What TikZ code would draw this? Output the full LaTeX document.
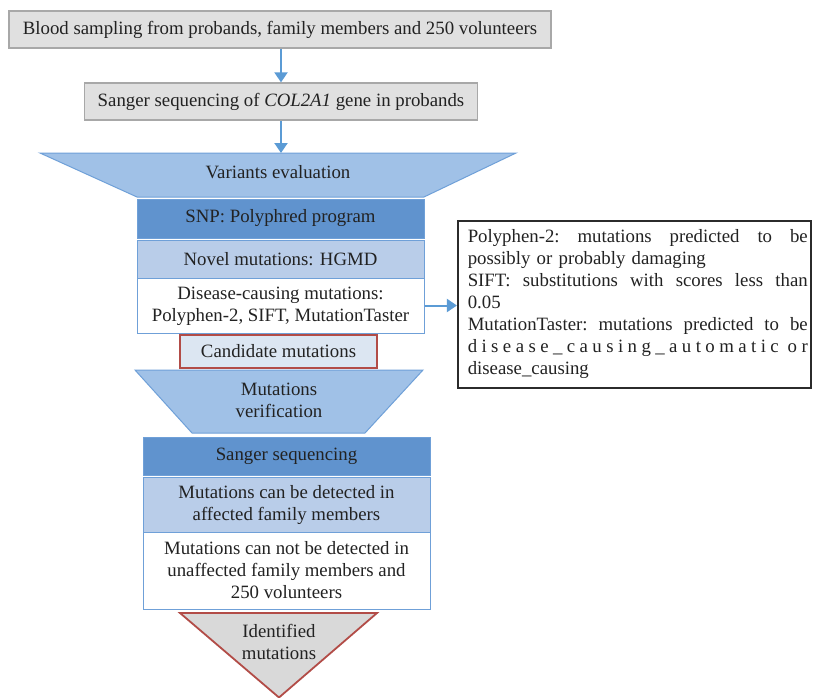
\documentclass[tikz,border=0pt]{standalone}
\usepackage{fontspec}
\setmainfont{Liberation Serif}
\usetikzlibrary{arrows.meta}
\definecolor{txt}{HTML}{222222}
\definecolor{grayfill}{HTML}{E0E0E0}
\definecolor{grayline}{HTML}{A8A8A8}
\definecolor{arrowblue}{HTML}{5B9BD5}
\definecolor{trapfill}{HTML}{A0C1E7}
\definecolor{bluedge}{HTML}{6FA0D8}
\definecolor{snpfill}{HTML}{6093CE}
\definecolor{novfill}{HTML}{B9CDE9}
\definecolor{candfill}{HTML}{DCE6F2}
\definecolor{redline}{HTML}{B24C47}
\definecolor{trifill}{HTML}{D9D9D9}
\definecolor{notebord}{HTML}{2B2B2B}
\newcommand{\jl}[1]{\hbox to 340pt{#1}}
\begin{document}
\begin{tikzpicture}[x=1pt,y=-1pt,
  every node/.style={font=\fontsize{18.8}{22}\selectfont, text=txt, inner sep=0pt, align=center},
  graybox/.style={draw=grayline, fill=grayfill, line width=1.3pt},
  darkbox/.style={draw=bluedge, fill=snpfill, line width=1pt, minimum width=287pt},
  midbox/.style={draw=bluedge, fill=novfill, line width=1pt, minimum width=287pt},
  whitebox/.style={draw=bluedge, fill=white, line width=1pt, minimum width=287pt},
  trapstyle/.style={draw=bluedge, fill=trapfill, line width=1pt},
  candbox/.style={draw=redline, fill=candfill, line width=1.8pt},
  tristyle/.style={draw=redline, fill=trifill, line width=1.8pt},
  notebox/.style={draw=notebord, line width=2.2pt, align=left},
  conn/.style={draw=arrowblue, line width=2pt, -{Triangle[length=10pt,width=13pt]}}]
\useasboundingbox[fill=white] (0,0) rectangle (813,698);

% top boxes
\node[graybox, minimum width=542pt, minimum height=37pt] (sample) at (280,29.5)
  {Blood sampling from probands, family members and 250 volunteers};
\node[graybox, minimum width=393pt, minimum height=37pt] (sangerA) at (281,101.5)
  {Sanger sequencing of \textit{COL2A1} gene in probands};

% variants evaluation funnel
\path[trapstyle] (40,153) -- (516,153) -- (424,197) -- (137,197) -- cycle;
\coordinate (evtop) at (281,153);
\node (evtext) at (278,172) {Variants evaluation};

\node[darkbox, minimum height=39pt] (snp) at (280.5,218.5) {SNP: Polyphred program};
\node[midbox, minimum height=38pt] (novel) at (280.5,259) {Novel mutations: HGMD};
\node[whitebox, minimum height=55pt] (dis) at (280.5,305.5)
  {\rule{0pt}{15pt}Disease-causing mutations:\\Polyphen-2, SIFT, MutationTaster};
\node[candbox, minimum width=197pt, minimum height=33pt] (cand) at (278.5,351.5) {Candidate mutations};

% notes
\node[notebox, minimum width=353pt, minimum height=167pt, text width=346.5pt] (notes) at (634.5,304.5) {%
\hspace*{6.5pt}\begin{minipage}{340pt}
\jl{Polyphen-2:\hfill mutations\hfill predicted\hfill to\hfill be}
\jl{possibly or probably damaging\hfill}
\jl{SIFT:\hfill substitutions\hfill with\hfill scores\hfill less\hfill than}
\jl{0.05\hfill}
\jl{MutationTaster:\hfill mutations\hfill predicted\hfill to\hfill be}
\jl{d\hfill i\hfill s\hfill e\hfill a\hfill s\hfill e\hfill \_\hfill c\hfill a\hfill u\hfill s\hfill i\hfill n\hfill g\hfill \_\hfill a\hfill u\hfill t\hfill o\hfill m\hfill a\hfill t\hfill i\hfill c\hfill\hfill o\hfill r}
\jl{disease\_causing\hfill}
\end{minipage}};

% verification funnel
\path[trapstyle] (135,370) -- (423,370) -- (365,433) -- (192,433) -- cycle;
\node (vertext) at (279,400) {Mutations\\verification};

\node[darkbox, minimum height=38pt] (sangerB) at (286.5,456) {Sanger sequencing};
\node[midbox, minimum height=55pt] (aff) at (286.5,504.5)
  {\rule{0pt}{15pt}Mutations can be detected in\\affected family members};
\node[whitebox, minimum height=77pt] (unaff) at (286.5,570.5)
  {Mutations can not be detected in\\unaffected family members and\\250 volunteers};

% identified
\path[tristyle] (180,613) -- (377,613) -- (279,697.5) -- cycle;
\node (ident) at (279,642) {Identified\\mutations};

% connectors
\draw[conn] (sample.south -| sangerA.north) -- (sangerA.north);
\draw[conn] (sangerA.south) -- (evtop);
\draw[conn] (dis.east) -- (dis.east -| notes.west);
\end{tikzpicture}
\end{document}
